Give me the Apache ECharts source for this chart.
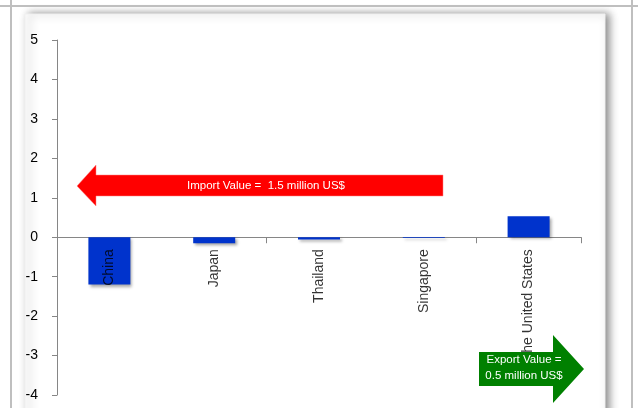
<!DOCTYPE html>
<html>
<head>
<meta charset="utf-8">
<script src="https://cdn.jsdelivr.net/npm/echarts@6/dist/echarts.min.js"></script>
<style>
html,body{margin:0;padding:0;background:#fff;}
#main{width:638px;height:408px;}
</style>
</head>
<body>
<div id="main"></div>
<script>
var categories = ['China', 'Japan', 'Thailand', 'Singapore', 'The United States'];
var values = [-1.2, -0.15, -0.06, -0.02, 0.53];
var importText = 'Import Value =  1.5 million US$';
var exportText = 'Export Value =\n0.5 million US$';

var chart = echarts.init(document.getElementById('main'), null, {renderer: 'canvas'});
var font = '"Liberation Sans", Arial, sans-serif';
chart.setOption({
  backgroundColor: '#ffffff',
  animation: false,
  grid: {left: 57, right: 57, top: 40, bottom: 13, containLabel: false, outerBoundsMode: 'none'},
  xAxis: {
    type: 'category',
    data: categories,
    axisLine: {onZero: true, lineStyle: {color: '#868686', width: 1}},
    axisTick: {show: true, length: 6, lineStyle: {color: '#868686'}},
    axisLabel: {show: false},
    splitLine: {show: false}
  },
  yAxis: {
    type: 'value',
    min: -4, max: 5, interval: 1,
    axisLine: {show: true, lineStyle: {color: '#868686', width: 1}},
    axisTick: {show: true, length: 5, lineStyle: {color: '#868686'}},
    axisLabel: {color: '#000', fontSize: 14, fontFamily: font, margin: 19},
    splitLine: {show: false}
  },
  series: [{
    type: 'bar',
    data: values,
    barWidth: 42,
    itemStyle: {
      color: '#0033CC',
      shadowColor: 'rgba(0,0,0,0.35)',
      shadowBlur: 3,
      shadowOffsetX: 2,
      shadowOffsetY: 2
    }
  }, {
    type: 'scatter',
    data: categories.map(function (c) { return [c, 0]; }),
    symbolSize: 0,
    silent: true,
    z: 10,
    label: {
      show: true,
      formatter: function (p) { return p.value[0]; },
      position: 'bottom',
      distance: 12,
      rotate: 90,
      align: 'right',
      verticalAlign: 'middle',
      color: '#000',
      textBorderWidth: 0,
      textBorderColor: 'transparent',
      fontSize: 14,
      fontFamily: font
    }
  }],
  graphic: [
    {type: 'rect', z: -100, shape: {x: 25, y: 14, width: 580, height: 420},
     style: {fill: '#ffffff', stroke: '#f0f0f0', lineWidth: 1, shadowColor: 'rgba(0,0,0,0.45)', shadowBlur: 8, shadowOffsetX: 4, shadowOffsetY: 0}},
    {type: 'line', z: 50, shape: {x1: 0, y1: 6, x2: 638, y2: 6}, style: {stroke: '#bfbfbf', lineWidth: 2}},
    {type: 'line', z: 50, shape: {x1: 11, y1: 0, x2: 11, y2: 408}, style: {stroke: '#bfbfbf', lineWidth: 2}},
    {type: 'line', z: 50, shape: {x1: 632, y1: 0, x2: 632, y2: 408}, style: {stroke: '#bfbfbf', lineWidth: 2}},
    {type: 'polygon', z: 100,
     shape: {points: [[77,186],[96,165],[96,175],[443,175],[443,196],[96,196],[96,206]]},
     style: {fill: '#FF0000', stroke: '#ff8080', lineWidth: 0.5}},
    {type: 'text', z: 101, x: 266, y: 186,
     style: {text: importText, fill: '#ffffff', font: '11.5px ' + font, align: 'center', verticalAlign: 'middle'}},
    {type: 'polygon', z: 100,
     shape: {points: [[479,352],[553,352],[553,335],[584,369],[553,403],[553,386],[479,386]]},
     style: {fill: '#008000'}},
    {type: 'text', z: 101, x: 524, y: 368,
     style: {text: exportText, fill: '#ffffff', font: '11.5px ' + font, align: 'center', verticalAlign: 'middle', lineHeight: 16}}
  ]
});
</script>
</body>
</html>
